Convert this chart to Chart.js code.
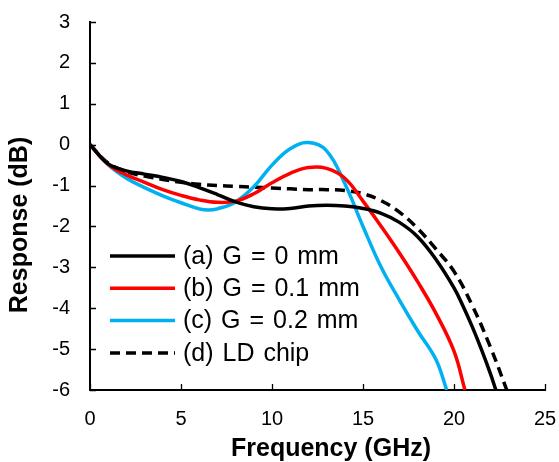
<!doctype html>
<html>

<head>
    <title>Response</title>
    <script src="https://cdn.jsdelivr.net/npm/chart.js"></script>
    <style>
        body { margin: 0; background: #fff; }
    </style>
</head>

<body>
    <canvas id="myChart" width="559" height="462"></canvas>
    <script>
        // frequency (GHz) and response (dB)
        const freqA = [0, 1, 2, 3, 4, 5, 6, 7, 8, 9, 10, 11, 12, 13, 14, 15, 16, 17, 18, 19, 20, 20.5, 21, 21.5, 22, 22.3];
        const respA = [0, -0.47, -0.64, -0.72, -0.8, -0.9, -1.05, -1.22, -1.4, -1.52, -1.57, -1.56, -1.5, -1.48, -1.5, -1.56, -1.68, -1.9, -2.25, -2.8, -3.5, -3.95, -4.45, -5.0, -5.6, -6];

        const freqB = [0, 1, 2, 3, 4, 5, 6, 7, 8, 9, 10, 11, 12, 13, 14, 15, 16, 17, 18, 19, 20, 20.6];
        const respB = [0, -0.48, -0.74, -0.92, -1.1, -1.24, -1.35, -1.41, -1.38, -1.2, -0.93, -0.7, -0.56, -0.58, -0.82, -1.38, -2.0, -2.65, -3.35, -4.12, -5.05, -6];

        const freqC = [0, 1, 2, 3, 4, 5, 6, 6.5, 7, 8, 9, 10, 11, 12, 13, 14, 15, 16, 17, 18, 19, 19.6];
        const respC = [0, -0.49, -0.82, -1.05, -1.25, -1.42, -1.57, -1.6, -1.57, -1.4, -1.03, -0.5, -0.1, 0.05, -0.15, -0.95, -2.0, -3.0, -3.8, -4.55, -5.25, -6];

        const freqD = [0, 1, 2, 3, 4, 5, 6, 7, 8, 9, 10, 11, 12, 13, 14, 15, 16, 17, 18, 19, 20, 21, 22, 22.9];
        const respD = [0, -0.45, -0.66, -0.77, -0.85, -0.92, -0.97, -1.0, -1.02, -1.04, -1.06, -1.08, -1.1, -1.1, -1.12, -1.2, -1.37, -1.65, -2.05, -2.55, -3.1, -3.93, -4.95, -6];

        const labels = ['(a) G = 0 mm', '(b) G = 0.1 mm', '(c) G = 0.2 mm', '(d) LD chip'];
        const xTicks = [0, 5, 10, 15, 20, 25];
        const yTicks = [3, 2, 1, 0, -1, -2, -3, -4, -5, -6];

        const FONT = "Arial, 'Liberation Sans', sans-serif";

        function pts(xs, ys) {
            return xs.map((x, i) => ({ x: x, y: ys[i] }));
        }

        // drop the label overhang so layout.padding alone places the plot
        function noOverhang(s) {
            s.paddingTop = 0;
            s.paddingBottom = 0;
            s.paddingLeft = 0;
            s.paddingRight = 0;
        }

        // tick marks pointing into the plot
        const innerTicks = {
            id: 'innerTicks',
            afterDraw(chart) {
                const c = chart.ctx;
                const xs = chart.scales.x, ys = chart.scales.y;
                c.save();
                c.strokeStyle = '#000';
                c.lineWidth = 1.3;
                c.beginPath();
                xTicks.forEach(v => {
                    const px = Math.round(xs.getPixelForValue(v)) + 0.5;
                    c.moveTo(px, ys.bottom);
                    c.lineTo(px, ys.bottom - 6);
                });
                yTicks.forEach(v => {
                    const py = Math.round(ys.getPixelForValue(v)) + 0.5;
                    c.moveTo(xs.left, py);
                    c.lineTo(xs.left + 6, py);
                });
                c.stroke();
                c.restore();
            }
        };

        // axis titles + legend inside the plot
        const extras = {
            id: 'extras',
            afterDraw(chart) {
                const c = chart.ctx;
                c.save();
                c.fillStyle = '#000';
                c.font = 'bold 25px ' + FONT;
                c.textAlign = 'center';
                c.textBaseline = 'middle';
                c.fillText('Frequency (GHz)', 331, 449);
                c.translate(20, 225);
                c.rotate(-Math.PI / 2);
                c.fillText('Response (dB)', 0, 0);
                c.restore();

                c.save();
                c.font = '25px ' + FONT;
                c.textBaseline = 'middle';
                c.textAlign = 'left';
                c.wordSpacing = '2px';
                chart.data.datasets.forEach((ds, i) => {
                    const y = 256 + i * 32.3;
                    c.strokeStyle = ds.borderColor;
                    c.lineWidth = 3.5;
                    c.setLineDash(ds.borderDash || []);
                    c.beginPath();
                    c.moveTo(110, y);
                    c.lineTo(175, y);
                    c.stroke();
                    c.setLineDash([]);
                    c.fillStyle = '#000';
                    c.fillText(ds.label, 183, y + 1);
                });
                c.restore();
            }
        };

        const ctx = document.getElementById('myChart').getContext('2d');
        const myChart = new Chart(ctx, {
            type: 'line',
            data: {
                datasets: [{
                    label: labels[0],
                    data: pts(freqA, respA),
                    borderColor: '#000000',
                    borderWidth: 3.5
                }, {
                    label: labels[1],
                    data: pts(freqB, respB),
                    borderColor: '#ff0000',
                    borderWidth: 3.5
                }, {
                    label: labels[2],
                    data: pts(freqC, respC),
                    borderColor: '#00b0f0',
                    borderWidth: 3.5
                }, {
                    label: labels[3],
                    data: pts(freqD, respD),
                    borderColor: '#000000',
                    borderWidth: 3.5,
                    borderDash: [10, 6]
                }]
            },
            options: {
                responsive: false,
                animation: false,
                tension: 0.4,
                pointRadius: 0,
                layout: {
                    padding: { top: 22, right: 14, left: 0, bottom: 0 }
                },
                plugins: {
                    legend: { display: false },
                    tooltip: { enabled: false }
                },
                scales: {
                    x: {
                        type: 'linear',
                        min: 0,
                        max: 25,
                        afterBuildTicks: s => { s.ticks = xTicks.map(v => ({ value: v })); },
                        afterFit: s => { s.height = 72; noOverhang(s); },
                        grid: { display: false, drawTicks: false },
                        border: { display: true, color: '#000', width: 2 },
                        ticks: {
                            color: '#000',
                            padding: 17,
                            maxRotation: 0,
                            font: { family: FONT, size: 20 }
                        }
                    },
                    y: {
                        type: 'linear',
                        min: -6,
                        max: 3,
                        afterBuildTicks: s => { s.ticks = yTicks.map(v => ({ value: v })); },
                        afterFit: s => { s.width = 90; noOverhang(s); },
                        grid: { display: false, drawTicks: false },
                        border: { display: true, color: '#000', width: 2 },
                        ticks: {
                            color: '#000',
                            padding: 20,
                            font: { family: FONT, size: 20 }
                        }
                    }
                }
            },
            plugins: [innerTicks, extras]
        });
    </script>
</body>

</html>
